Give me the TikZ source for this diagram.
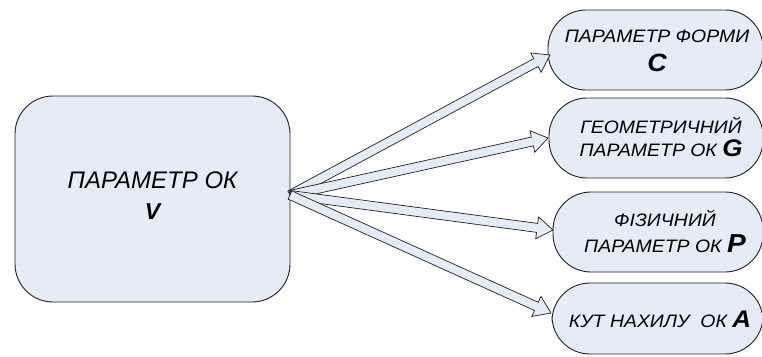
\documentclass[tikz,border=0pt]{standalone}
\usepackage{fontspec}
\setmainfont{Liberation Sans}
\newfontfamily\wideface[FakeStretch=1.08]{Liberation Sans}
\usetikzlibrary{calc}
\definecolor{boxfill}{HTML}{E6ECF7}
\definecolor{boxline}{HTML}{202020}
\tikzset{
  bigbox/.style={draw=boxline, fill=boxfill, line width=0.9pt, rounded corners=38pt,
    minimum width=275pt, minimum height=206pt, inner sep=0pt},
  bigtext/.style={align=center, inner sep=0pt, font=\fontsize{24}{31}\selectfont\itshape},
  smallbox/.style={draw=boxline, fill=boxfill, line width=0.9pt, rounded corners=38pt,
    minimum height=80pt, inner sep=0pt},
  smalltext/.style={align=center, inner sep=0pt, font=\fontsize{18}{23}\selectfont\wideface\itshape},
  fatarr/.style={draw=boxline, fill=boxfill, line width=0.7pt, line join=miter},
}
\newcommand{\bigletter}[2]{{\fontsize{#1}{#1}\selectfont\bfseries\itshape #2}}
\newcommand{\fatarrow}[2]{%
  \path let \p1=($(#2)-(#1)$), \n1={atan2(\y1,\x1)}, \n2={veclen(\x1,\y1)} in
    \pgfextra{\xdef\myang{\n1}\xdef\mylen{\n2}};
  \pgfmathsetmacro{\myneck}{\mylen-16}
  \begin{scope}[shift={(#1)}, rotate=\myang]
    \filldraw[fatarr] (0pt,-4.5pt) -- (\myneck pt,-4.5pt) -- (\myneck pt,-11pt)
      -- (\mylen,0pt) -- (\myneck pt,11pt) -- (\myneck pt,4.5pt) -- (0pt,4.5pt) -- cycle;
  \end{scope}}
\begin{document}
\begin{tikzpicture}[x=1pt, y=-1pt]
  \useasboundingbox (0,0) rectangle (762,356);
  % boxes
  \node[bigbox] (v) at (152.5,199) {};
  \node[smallbox, minimum width=215pt] (c) at (655.5,50) {};
  \node[smallbox, minimum width=214pt] (g) at (656,138) {};
  \node[smallbox, minimum width=210pt] (p) at (658,232) {};
  \node[smallbox, minimum width=211pt, minimum height=71pt] (a) at (657.5,318.5) {};
  % texts
  \node[bigtext] (vt) at (152.5,196) {ПАРАМЕТР ОК\\\bigletter{23}{V}};
  \node[smalltext] (ct) at (657,51) {ПАРАМЕТР ФОРМИ\\[6pt]\bigletter{25}{C}};
  \node[smalltext] (gt) at (661,137) {ГЕОМЕТРИЧНИЙ\\ПАРАМЕТР ОК \bigletter{24}{G}};
  \node[smalltext] (pt) at (665,231) {ФІЗИЧНИЙ\\[3pt]ПАРАМЕТР ОК \bigletter{26}{P}};
  \node[smalltext] (at) at (660,319) {КУТ НАХИЛУ~~ОК \bigletter{24}{A}};
  % connectors
  \coordinate (o) at (290,195);
  \coordinate (tc) at (550,55);
  \coordinate (tg) at (548,138);
  \coordinate (tp) at (553,230);
  \coordinate (ta) at (551,313);
  \fatarrow{o}{tc}
  \fatarrow{o}{tg}
  \fatarrow{o}{tp}
  \fatarrow{o}{ta}
\end{tikzpicture}
\end{document}
